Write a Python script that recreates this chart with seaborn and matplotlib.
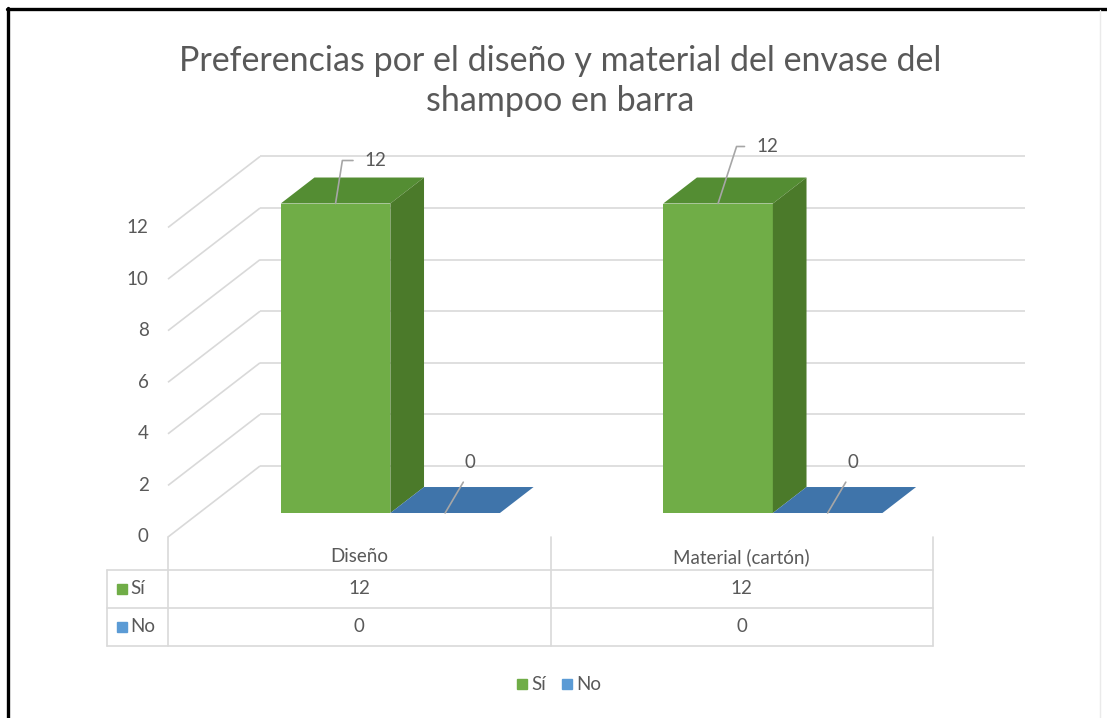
import matplotlib
matplotlib.use("Agg")
import matplotlib.pyplot as plt
import matplotlib.transforms as mtransforms
from matplotlib.colors import to_rgb
from matplotlib.lines import Line2D
from matplotlib.patches import Polygon
import pandas as pd
import seaborn as sns

# ---- data ----
categories = ["Diseño", "Material (cartón)"]
series = ["Sí", "No"]
si_values = [12, 12]
no_values = [0, 0]
y_ticks = [0, 2, 4, 6, 8, 10, 12]
title = "Preferencias por el diseño y material del envase del\nshampoo en barra"

# ---- style ----
W, H, DPI = 1107, 718, 100
TEXT = "#595959"
GRID = "#D9D9D9"
LEADER = "#A6A6A6"
face_colors = {"Sí": "#70AD47", "No": "#5B9BD5"}
top_colors = {"Sí": "#548D33", "No": "#3F74AA"}
side_colors = {"Sí": "#4B7A2A", "No": "#2F5F8F"}

sns.set_theme(style="white")
plt.rcParams["font.family"] = ["Lato", "DejaVu Sans"]

fig = plt.figure(figsize=(W / DPI, H / DPI), dpi=DPI)
fig.patch.set_facecolor("white")
ax = fig.add_axes([0, 0, 1, 1])

# oblique 3-D frame, laid out in pixels from the top-left corner
x_front_left, x_front_right = 168, 933
y_zero_px, y_max_px = 537, 227.5
depth_px = (92, 71)
bar_depth = (0.338, 0.704)

px_per_x = (x_front_right - x_front_left) / len(categories)
px_per_y = (y_zero_px - y_max_px) / y_ticks[-1]
DX = depth_px[0] / px_per_x
DY = depth_px[1] / px_per_y

df = pd.DataFrame({
    "categoria": categories * 2,
    "serie": [series[0]] * len(categories) + [series[1]] * len(categories),
    "valor": si_values + no_values,
})

sns.barplot(data=df, x="categoria", y="valor", hue="serie", hue_order=series,
            palette=[face_colors[s] for s in series], width=0.573,
            saturation=1, errorbar=None, legend=False, linewidth=0, ax=ax)

xmin = -0.5 - x_front_left / px_per_x
ymin = -(H - y_zero_px) / px_per_y
ax.set_xlim(xmin, xmin + W / px_per_x)
ax.set_ylim(ymin, ymin + H / px_per_y)
ax.set_axis_off()

x_left, x_right = -0.5, len(categories) - 0.5

# side-wall and back-wall gridlines
for v in y_ticks:
    ax.plot([x_left, x_left + DX], [v, v + DY], color=GRID, lw=1.2, zorder=1,
            solid_capstyle="butt")
    ax.plot([x_left + DX, x_right + DX], [v + DY, v + DY], color=GRID, lw=1.2,
            zorder=1, solid_capstyle="butt")
    ax.annotate(str(v), xy=(x_left, v), xytext=(-14, 0), textcoords="offset points",
                ha="right", va="center", color=TEXT, fontsize=13.5)

# extrude the seaborn bars into boxes
d0, d1 = bar_depth
label_offsets = {("Sí", 0): (40, 43, 81), ("Sí", 1): (49, 57, 72),
                 ("No", 0): (25, 51, None), ("No", 1): (25, 51, None)}
for p in list(ax.patches):
    rgb = to_rgb(p.get_facecolor()[:3])
    serie = min(series, key=lambda s: sum((a - b) ** 2 for a, b in zip(rgb, to_rgb(face_colors[s]))))
    x0, w, h = p.get_x(), p.get_width(), p.get_height()
    cat = int(round(x0 + w / 2))
    p.set_x(x0 + d0 * DX)
    p.set_y(d0 * DY)
    p.set_zorder(4)
    top = [(x0 + d0 * DX, h + d0 * DY), (x0 + w + d0 * DX, h + d0 * DY),
           (x0 + w + d1 * DX, h + d1 * DY), (x0 + d1 * DX, h + d1 * DY)]
    side = [(x0 + w + d0 * DX, d0 * DY), (x0 + w + d1 * DX, d1 * DY),
            (x0 + w + d1 * DX, h + d1 * DY), (x0 + w + d0 * DX, h + d0 * DY)]
    ax.add_patch(Polygon(top, closed=True, facecolor=top_colors[serie], edgecolor="none", zorder=4))
    if h > 0:
        ax.add_patch(Polygon(side, closed=True, facecolor=side_colors[serie], edgecolor="none", zorder=4))

    ox, oy, ang = label_offsets[(serie, cat)]
    anchor = (x0 + w / 2 + d0 * DX, h + d0 * DY)
    if ang is not None:
        arrow = dict(arrowstyle="-", color=LEADER, lw=1.2, shrinkA=6, shrinkB=0,
                     relpos=(0, 0.5), connectionstyle=f"angle,angleA=0,angleB={ang},rad=0")
    else:
        arrow = dict(arrowstyle="-", color=LEADER, lw=1.2, shrinkA=7, shrinkB=0,
                     relpos=(0.5, 0), connectionstyle="arc3")
    ax.annotate(f"{h:g}", xy=anchor, xytext=(ox * 0.72, oy * 0.72),
                textcoords="offset points", ha="center", va="center",
                color=TEXT, fontsize=13.5, arrowprops=arrow, zorder=5)

# data table under the plot
tt = mtransforms.blended_transform_factory(ax.transData, fig.transFigure)
fy = lambda px: 1 - px / H
table_left = x_left - 61 / px_per_x
row_lines = [570, 608, 646]
for xv in range(len(categories) + 1):
    ax.plot([x_left + xv, x_left + xv], [fy(y_zero_px), fy(row_lines[-1])],
            color=GRID, lw=1.2, transform=tt, zorder=1)
ax.plot([table_left, table_left], [fy(row_lines[0]), fy(row_lines[-1])],
        color=GRID, lw=1.2, transform=tt, zorder=1)
for ry in row_lines:
    ax.plot([table_left, x_right], [fy(ry), fy(ry)], color=GRID, lw=1.2,
            transform=tt, zorder=1)
for i, c in enumerate(categories):
    ax.text(i, fy(557), c, transform=tt, ha="center", va="center", color=TEXT, fontsize=13.5)

row_centers = [589, 627]
for s, vals, ry in zip(series, [si_values, no_values], row_centers):
    ax.plot([table_left + 15 / px_per_x], [fy(ry)], marker="s", ms=6.5,
            color=face_colors[s], transform=tt, ls="")
    ax.text(table_left + 23 / px_per_x, fy(ry), s, transform=tt, ha="left",
            va="center", color=TEXT, fontsize=13.5)
    for i, v in enumerate(vals):
        ax.text(i, fy(ry), f"{v:g}", transform=tt, ha="center", va="center",
                color=TEXT, fontsize=13.5)

# legend
handles = [Line2D([], [], marker="s", ls="", ms=6.5, color=face_colors[s], label=s)
           for s in series]
fig.legend(handles=handles, loc="center", bbox_to_anchor=(558 / W, fy(685)), ncol=2,
           frameon=False, handletextpad=0.1, columnspacing=0.7, handlelength=0.8,
           labelcolor=TEXT, fontsize=13.5)

# title
fig.text(560 / W, fy(81), title, ha="center", va="center", color=TEXT,
         fontsize=24.5, linespacing=1.33)

# outer frame
fig.add_artist(Line2D([8 / W, 8 / W], [0, fy(7.5)], color="black", lw=2.4,
                      transform=fig.transFigure))
fig.add_artist(Line2D([6.8 / W, 1], [fy(8.5), fy(8.5)], color="black", lw=2.4,
                      transform=fig.transFigure))
fig.add_artist(Line2D([1100 / W, 1100 / W], [0, fy(10)], color="#EAEAEA", lw=1,
                      transform=fig.transFigure))

fig.savefig("out.png", dpi=DPI, facecolor="white")
